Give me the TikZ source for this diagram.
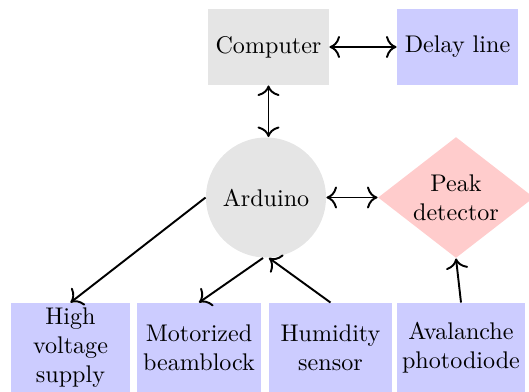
\documentclass[tikz,border=0pt]{standalone}
\usetikzlibrary{shapes.geometric,arrows.meta}
\begin{document}
\begin{tikzpicture}[x=0.415pt,y=-0.415pt,
  >={To[scale=1.3]},
  graybox/.style={fill=black!10, inner sep=2pt, align=center},
  bluebox/.style={fill=blue!20, inner sep=2pt, align=center},
  conn/.style={thick,->},
  biconn/.style={thick,<->}]
\useasboundingbox (0,0) rectangle (529,391);
\clip (0,0) rectangle (529,391);
\node[graybox, minimum width=121*0.415pt, minimum height=76*0.415pt] (comp) at (268.5,47) {Computer};
\node[bluebox, minimum width=121*0.415pt, minimum height=76*0.415pt] (delay) at (457.5,47) {Delay line};
\node[circle, fill=black!10, inner sep=1pt, minimum size=120*0.415pt] (ard) at (266,197.5) {Arduino};
\node[diamond, fill=red!20, inner sep=0pt, shape aspect=1.29, align=center, minimum width=156*0.415pt, minimum height=121*0.415pt] (peak) at (456,197.5) {Peak\\detector};
\node[bluebox, minimum width=119*0.415pt, minimum height=90*0.415pt] (hv) at (70.5,348) {High\\voltage\\supply};
\node[bluebox, minimum width=124*0.415pt, minimum height=90*0.415pt] (mot) at (199,348) {Motorized\\beamblock};
\node[bluebox, minimum width=123*0.415pt, minimum height=90*0.415pt] (hum) at (330.5,348) {Humidity\\sensor};
\node[bluebox, minimum width=124*0.415pt, minimum height=90*0.415pt] (ava) at (461,348) {Avalanche\\photodiode};
\draw[biconn] (comp) -- (delay);
\draw[biconn] (comp.south) -- (ard.north -| comp.south);
\draw[biconn] (ard) -- (peak);
\draw[conn] (ard.west) -- (hv.north);
\draw[conn] ([xshift=-3*0.415pt]ard.south) -- (mot.north);
\draw[conn] (hum.north) -- ([xshift=3*0.415pt]ard.south);
\draw[conn] (ava.north) -- (peak.south);
\end{tikzpicture}
\end{document}
